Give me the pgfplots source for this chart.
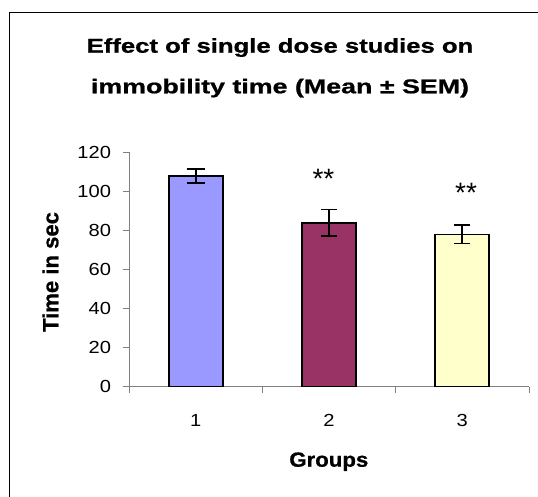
\documentclass[border=0pt]{standalone}
\usepackage{pgfplots}
\pgfplotsset{compat=1.18}
\usepackage{graphicx}
\usepackage{fontspec}
\setmainfont{Liberation Sans}[BoldFeatures={FakeBold=0.8}]
\definecolor{axgray}{RGB}{128,128,128}
\definecolor{cone}{RGB}{153,153,255}
\definecolor{ctwo}{RGB}{153,51,102}
\definecolor{cthree}{RGB}{255,255,204}
\newcommand{\tickfont}{\fontsize{17.5}{20}\selectfont}
\begin{document}
\begin{tikzpicture}[x=1pt,y=-1pt]
\useasboundingbox (0,0) rectangle (538,497);
\draw[line width=1pt, black] (9.4,497) -- (9.4,12.5) -- (538,12.5);
\node[anchor=base] at (280,52.7) {\resizebox{386.6pt}{\height}{\fontsize{20}{24}\selectfont\bfseries Effect of single dose studies on}};
\node[anchor=base] at (280,93.3) {\resizebox{378pt}{\height}{\fontsize{20}{24}\selectfont\bfseries immobility time (Mean ± SEM)}};
\node[rotate=90, anchor=base] at (58.3,272) {\resizebox{120pt}{\height}{\fontsize{22}{26}\selectfont\bfseries Time in sec}};
\node[anchor=base] at (328.8,466.7) {\resizebox{79pt}{\height}{\fontsize{20.5}{24}\selectfont\bfseries Groups}};
\begin{axis}[
  at={(129pt,-386.5pt)}, anchor=south west,
  scale only axis, width=400pt, height=234pt,
  xmin=0.5, xmax=3.5, ymin=0, ymax=120,
  axis x line=bottom, axis y line=left,
  axis line style={-, draw=axgray, line width=1pt},
  ybar, bar width=54pt,
  xtick={1,2,3}, xticklabels={1,2,3},
  minor xtick={0.5,1.5,2.5,3.5},
  major x tick style={draw=none},
  minor x tick style={draw=axgray, line width=1pt},
  minor tick length=6pt,
  ytick={0,20,...,120},
  y tick style={draw=axgray, line width=1pt},
  major tick length=6pt,
  tick align=outside,
  /pgf/number format/assume math mode=true,
  yticklabel={\scalebox{1.15}[1]{\pgfmathprintnumber{\tick}}},
  xticklabel={\scalebox{1.15}[1]{\pgfmathprintnumber{\tick}}},
  yticklabel style={font=\tickfont, xshift=-8.5pt},
  xticklabel style={font=\tickfont, yshift=-18pt},
  clip=false,
]
\addplot[fill=cone, draw=black, line width=1.8pt, bar shift=0pt,
  error bars/.cd, y dir=both, y explicit,
  error bar style={line width=1.8pt, black},
  error mark options={rotate=90, mark size=9pt, line width=1.8pt, black}]
  table[x=x, y=y, y error=e] {
x y e
1 108 3.7
};
\addplot[fill=ctwo, draw=black, line width=1.8pt, bar shift=0pt,
  error bars/.cd, y dir=both, y explicit,
  error bar style={line width=1.8pt, black},
  error mark options={rotate=90, mark size=8pt, line width=1.8pt, black}]
  table[x=x, y=y, y error=e] {
x y e
2 84 6.8
};
\addplot[fill=cthree, draw=black, line width=1.8pt, bar shift=0pt,
  error bars/.cd, y dir=both, y explicit,
  error bar style={line width=1.8pt, black},
  error mark options={rotate=90, mark size=8pt, line width=1.8pt, black}]
  table[x=x, y=y, y error=e] {
x y e
3 78 4.7
};
\node[anchor=base, font=\fontsize{28}{30}\selectfont] at (axis cs:1.958,101.3) {**};
\node[anchor=base, font=\fontsize{28}{30}\selectfont] at (axis cs:3.028,94.5) {**};
\end{axis}
\end{tikzpicture}
\end{document}
